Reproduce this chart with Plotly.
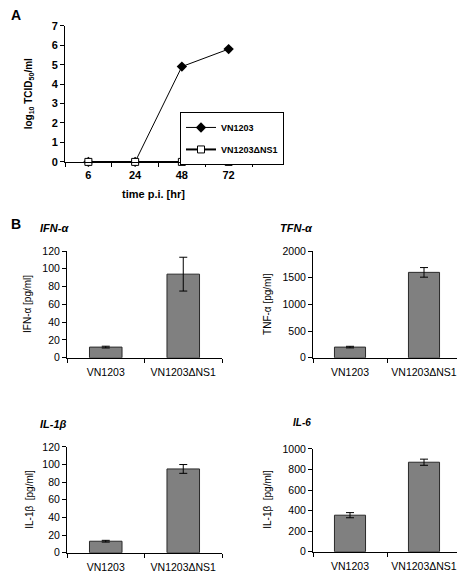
import plotly.graph_objects as go

W, H = 465, 583
OFF = 8  # page body margin offset in the browser

# ---- Data ----
time_labels = ["6", "24", "48", "72"]
vn1203_titer = [0, 0, 4.9, 5.8]
dns1_titer = [0, 0, 0, 0]

strains = ["VN1203", "VN1203ΔNS1"]
ifn_vals = [12, 94]
ifn_err = [1, 19]
tnf_vals = [200, 1600]
tnf_err = [15, 90]
il1b_vals = [13, 95]
il1b_err = [1, 5]
il6_vals = [355, 870]
il6_err = [25, 30]

FONT = "Arial, Liberation Sans, sans-serif"

def px(x):
    return (x - OFF) / W

def py(y):
    return 1 - (y - OFF) / H

fig = go.Figure()

# ---- Panel A ----
fig.add_trace(go.Scatter(
    x=time_labels, y=vn1203_titer, mode="lines+markers", name="<b>VN1203</b>",
    legendgroup="a",
    line=dict(color="black", width=1),
    marker=dict(symbol="diamond", size=8, color="black"),
    xaxis="x", yaxis="y", cliponaxis=False))
fig.add_trace(go.Scatter(
    x=time_labels, y=dns1_titer, mode="lines+markers", name="<b>VN1203ΔNS1</b>",
    legendgroup="b",
    line=dict(color="black", width=2),
    marker=dict(symbol="square", size=7, color="white", line=dict(color="black", width=1)),
    xaxis="x", yaxis="y", cliponaxis=False))

# ---- Panel B bars ----
bar_panels = [
    (ifn_vals, ifn_err, "x2", "y2"),
    (tnf_vals, tnf_err, "x3", "y3"),
    (il1b_vals, il1b_err, "x4", "y4"),
    (il6_vals, il6_err, "x5", "y5"),
]
for vals, errs, xa, ya in bar_panels:
    fig.add_trace(go.Bar(
        x=strains, y=vals, width=0.42, showlegend=False,
        marker=dict(color="#808080", line=dict(color="#2a2a2a", width=1)),
        error_y=dict(type="data", array=errs, visible=True, color="black", thickness=1, width=4),
        xaxis=xa, yaxis=ya))

axis_common = dict(showline=True, linecolor="black", linewidth=1, ticks="outside",
                   tickcolor="black", ticklen=4, showgrid=False, zeroline=False)

layout = dict(
    width=W, height=H, margin=dict(l=0, r=0, t=0, b=0),
    paper_bgcolor="white", plot_bgcolor="white",
    font=dict(family=FONT, color="black", size=11),
    showlegend=True,
    legend=dict(x=px(180), y=py(108), xanchor="left", yanchor="top",
                bordercolor="black", borderwidth=1, bgcolor="white",
                traceorder="grouped", tracegroupgap=3,
                font=dict(size=9, family=FONT), itemwidth=30),
)

# Panel A axes
layout["xaxis"] = dict(axis_common, domain=[px(65), px(252)], anchor="y",
                       type="category", range=[-0.5, 3.5], tickson="boundaries",
                       tickangle=0, ticklabelstandoff=3,
                       tickfont=dict(size=11, weight="bold"))
layout["yaxis"] = dict(axis_common, domain=[py(159), py(20)], anchor="x",
                       range=[0, 7], dtick=1, tickfont=dict(size=11, weight="bold"))

# Panel B axes
def bar_axes(n, xdom, ydom, yrange, dtick):
    layout["xaxis%d" % n] = dict(axis_common, domain=[px(xdom[0]), px(xdom[1])],
                                 anchor="y%d" % n, type="category", range=[-0.5, 1.5],
                                 tickson="boundaries", tickangle=0, ticklabelstandoff=5,
                                 tickfont=dict(size=10.5))
    layout["yaxis%d" % n] = dict(axis_common, domain=[py(ydom[1]), py(ydom[0])],
                                 anchor="x%d" % n, range=yrange, dtick=dtick,
                                 tickfont=dict(size=10.5))

bar_axes(2, (67, 222), (250, 359), [0, 120], 20)
bar_axes(3, (313, 461), (250, 359), [0, 2000], 500)
bar_axes(4, (67, 222), (450, 558), [0, 120], 20)
bar_axes(5, (313, 461), (452, 557), [0, 1000], 200)

fig.update_layout(**layout)

def ann(text, x, y, size=11, angle=0, xanchor="center", yanchor="middle"):
    fig.add_annotation(text=text, x=px(x), y=py(y), xref="paper", yref="paper",
                       showarrow=False, textangle=angle, xanchor=xanchor, yanchor=yanchor,
                       font=dict(size=size, family=FONT, color="black"))

# Panel labels and titles
ann("<b>A</b>", 9, 9, size=14, xanchor="left")
ann("<b>B</b>", 9, 222, size=14, xanchor="left")
ann("<b>log<sub>10</sub> TCID<sub>50</sub>/ml</b>", 29, 90, size=10, angle=-90)
ann("<b>time p.i. [hr]</b>", 153, 192, size=11)

ann("<b><i>IFN-α</i></b>", 38, 227, size=11, xanchor="left")
ann("<b><i>TFN-α</i></b>", 278, 227, size=11, xanchor="left")
ann("<b><i>IL-1β</i></b>", 38, 427, size=11, xanchor="left")
ann("<b><i>IL-6</i></b>", 291, 425, size=10, xanchor="left")

ann("IFN-α [pg/ml]", 28, 304, size=10, angle=-90)
ann("TNF-α [pg/ml]", 268, 304, size=10, angle=-90)
ann("IL-1β  [pg/ml]", 30, 504, size=10, angle=-90)
ann("IL-1β  [pg/ml]", 268, 504, size=10, angle=-90)

fig.write_html("out.html")
